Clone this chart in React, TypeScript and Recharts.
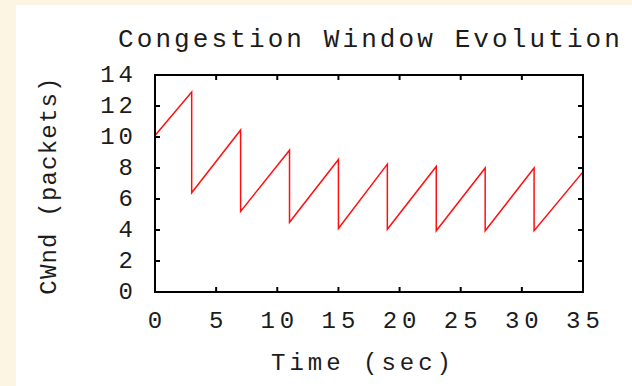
import React from 'react';
import { LineChart, Line, XAxis, YAxis } from 'recharts';

// sawtooth trace: each loss event is a vertical drop (two points at the same time)
const TIME = [0, 3, 3, 7, 7, 11, 11, 15, 15, 19, 19, 23, 23, 27, 27, 31, 31, 35];
const CWND = [10.1, 12.9, 6.4, 10.45, 5.2, 9.15, 4.5, 8.55, 4.1, 8.25, 4.05, 8.1, 3.95, 8.0, 3.95, 8.0, 3.95, 7.75];

const X_TICKS = [0, 5, 10, 15, 20, 25, 30, 35];
const Y_TICKS = [0, 2, 4, 6, 8, 10, 12, 14];

const TITLE = 'Congestion Window Evolution';
const X_LABEL = 'Time (sec)';
const Y_LABEL = 'CWnd (packets)';

const data = TIME.map((t, i) => ({ t, cwnd: CWND[i] }));

const FONT = '"Courier New", Courier, "Nimbus Mono PS", "Liberation Mono", monospace';
const INK = '#1c1c1c';
const TICK_LEN = 5;
const BORDER = { stroke: '#000', strokeWidth: 2, strokeLinecap: 'square' as const };

const BottomTick = ({ x, y, payload }: any) => (
  <g>
    <line x1={x} y1={y} x2={x} y2={y - TICK_LEN} stroke="#000" strokeWidth={2} />
    <text x={x} y={y + 29} dx={2.5} textAnchor="middle" dominantBaseline="central"
      fontFamily={FONT} fontSize={24} letterSpacing={5} fill={INK}>
      {payload.value}
    </text>
  </g>
);

const TopTick = ({ x, y }: any) => (
  <line x1={x} y1={y} x2={x} y2={y + TICK_LEN} stroke="#000" strokeWidth={2} />
);

const LeftTick = ({ x, y, payload }: any) => (
  <g>
    <line x1={x} y1={y} x2={x + TICK_LEN} y2={y} stroke="#000" strokeWidth={2} />
    <text x={x - 22} y={y} dx={4} textAnchor="end" dominantBaseline="central"
      fontFamily={FONT} fontSize={24} letterSpacing={4} fill={INK}>
      {payload.value}
    </text>
  </g>
);

const RightTick = ({ x, y }: any) => (
  <line x1={x} y1={y} x2={x - TICK_LEN} y2={y} stroke="#000" strokeWidth={2} />
);

const ChartTitle = ({ viewBox }: any) => (
  <text x={viewBox.x + viewBox.width / 2 + 1.5} y={viewBox.y + viewBox.height - 28} textAnchor="middle"
    fontFamily={FONT} fontSize={26} letterSpacing={3.1} fill={INK}>
    {TITLE}
  </text>
);

const XTitle = ({ viewBox }: any) => (
  <text x={viewBox.x + viewBox.width / 2 - 6} y={viewBox.y + 78} textAnchor="middle"
    fontFamily={FONT} fontSize={24} letterSpacing={4} fill={INK}>
    {X_LABEL}
  </text>
);

const YTitle = ({ viewBox }: any) => {
  const cx = 33;
  const cy = viewBox.y + viewBox.height / 2 + 2;
  return (
    <text x={cx} y={cy} textAnchor="middle" dominantBaseline="central"
      transform={`rotate(-90, ${cx}, ${cy})`}
      fontFamily={FONT} fontSize={24} letterSpacing={1.2} fill={INK}>
      {Y_LABEL}
    </text>
  );
};

export default function App() {
  return (
    <div style={{ position: 'absolute', left: 0, top: 0, width: 632, height: 386, background: '#fdf5e3' }}>
      <div style={{ position: 'absolute', left: 16, top: 5, width: 616, height: 381, background: '#fff' }}>
        <LineChart width={616} height={381} data={data} margin={{ top: 69, right: 48, left: 0, bottom: 0 }}>
          <XAxis dataKey="t" type="number" domain={[0, 35]} ticks={X_TICKS} interval={0}
            height={94} tickSize={0} tickMargin={0} tickLine={false} axisLine={BORDER}
            tick={<BottomTick />} label={<XTitle />} />
          <XAxis xAxisId="top" dataKey="t" orientation="top" type="number" domain={[0, 35]} ticks={X_TICKS}
            interval={0} height={1} tickSize={0} tickMargin={0} tickLine={false} axisLine={BORDER}
            tick={<TopTick />} label={<ChartTitle />} />
          <YAxis type="number" domain={[0, 14]} ticks={Y_TICKS} interval={0} width={139}
            tickSize={0} tickMargin={0} tickLine={false} axisLine={BORDER}
            tick={<LeftTick />} label={<YTitle />} />
          <YAxis yAxisId="right" dataKey="cwnd" orientation="right" type="number" domain={[0, 14]} ticks={Y_TICKS}
            interval={0} width={1} tickSize={0} tickMargin={0} tickLine={false} axisLine={BORDER}
            tick={<RightTick />} />
          <Line type="linear" dataKey="cwnd" stroke="#ff1010" strokeWidth={1.5} dot={false}
            activeDot={false} isAnimationActive={false} />
        </LineChart>
      </div>
    </div>
  );
}
